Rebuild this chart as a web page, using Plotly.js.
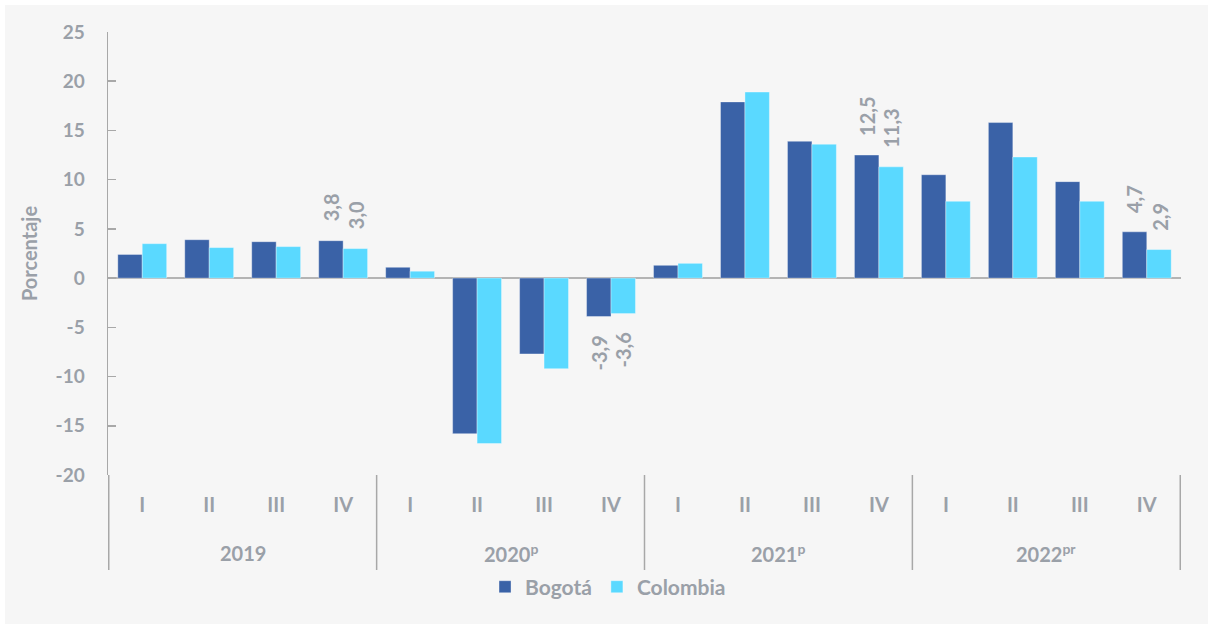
<!DOCTYPE html>
<html>
<head>
<meta charset="utf-8">
<script src="https://cdn.plot.ly/plotly-3.0.1.min.js"></script>
<style>
  html, body { margin: 0; padding: 0; background: #ffffff; }
  #chart { position: absolute; left: 5px; top: 5px; width: 1203px; height: 619px; background: #f6f6f6; }
</style>
</head>
<body>
<div id="chart"></div>
<script>
const yearKeys = ['2019', '2020', '2021', '2022'];
const yearLabels = ['2019', '2020<sup>p</sup>', '2021<sup>p</sup>', '2022<sup>pr</sup>'];
const quarters = ['I', 'II', 'III', 'IV'];
const bogota = [2.4, 3.9, 3.7, 3.8, 1.1, -15.8, -7.7, -3.9, 1.3, 17.9, 13.9, 12.5, 10.5, 15.8, 9.8, 4.7];
const colombia = [3.5, 3.1, 3.2, 3.0, 0.7, -16.8, -9.2, -3.6, 1.5, 18.9, 13.6, 11.3, 7.8, 12.3, 7.8, 2.9];
const labelledQuarter = 'IV';

const ids = [], qLabels = [];
yearKeys.forEach(y => quarters.forEach(q => { ids.push(y + ' ' + q); qLabels.push(q); }));

const gray = '#9aa0a8';
const lineGray = '#a8a8a8';
const fmt = v => v.toFixed(1).replace('.', ',');

const traces = [
  { type: 'bar', name: 'Bogotá', x: ids, y: bogota,
    marker: { color: '#3a62a7', line: { color: 'rgba(255,255,255,0.35)', width: 1 } }, hoverinfo: 'y' },
  { type: 'bar', name: 'Colombia', x: ids, y: colombia,
    marker: { color: '#5ad9ff', line: { color: 'rgba(255,255,255,0.35)', width: 1 } }, hoverinfo: 'y' }
];

const annotations = [];
qLabels.forEach((q, i) => {
  if (q !== labelledQuarter) return;
  [[bogota, -12.5], [colombia, 12.5]].forEach(([arr, dx]) => {
    const v = arr[i];
    annotations.push({
      x: i, y: v, xref: 'x', yref: 'y', text: fmt(v), showarrow: false,
      textangle: -90, xshift: dx, yshift: v >= 0 ? 17 : -17,
      yanchor: v >= 0 ? 'bottom' : 'top',
      font: { family: 'Lato, sans-serif', size: 20, color: gray }
    });
  });
});

// year group labels (centred under their four quarters) and group dividers
const nQ = quarters.length;
yearLabels.forEach((lab, k) => {
  annotations.push({
    x: k * nQ + (nQ - 1) / 2, xref: 'x', y: -0.176, yref: 'paper', yanchor: 'middle',
    text: lab, showarrow: false,
    font: { family: 'Lato, sans-serif', size: 20, color: gray, weight: 'bold' }
  });
});
const shapes = [];
for (let k = 0; k <= yearKeys.length; k++) {
  shapes.push({
    type: 'line', xref: 'x', yref: 'paper', x0: k * nQ - 0.5, x1: k * nQ - 0.5,
    y0: 0, y1: -0.2144, line: { color: lineGray, width: 1.5 }
  });
}

const layout = {
  width: 1203, height: 619,
  paper_bgcolor: '#f6f6f6', plot_bgcolor: '#f6f6f6',
  margin: { l: 103, r: 27, t: 27, b: 149 },
  barmode: 'group', bargap: 0.27, bargroupgap: 0,
  font: { family: 'Lato, sans-serif', color: gray, weight: 'bold' },
  xaxis: {
    type: 'category', tickvals: ids, ticktext: qLabels,
    showgrid: false, zeroline: false, showline: false, ticks: '',
    ticklabelstandoff: 16,
    tickfont: { family: 'Lato, sans-serif', size: 20, color: gray, weight: 'bold' }
  },
  yaxis: {
    range: [-20, 25], tickvals: [-20, -15, -10, -5, 0, 5, 10, 15, 20, 25],
    ticktext: ['-20', '-15', '-10', '-5', '0', '5', '10', '15', '20', '25'],
    showgrid: false, showline: true, linecolor: lineGray, linewidth: 1.5,
    ticks: 'inside', ticklen: 8, tickcolor: lineGray, tickwidth: 1.5,
    zeroline: true, zerolinecolor: '#b4b4b4', zerolinewidth: 2,
    tickfont: { family: 'Lato, sans-serif', size: 19, color: gray, weight: 'bold' },
    ticklabelstandoff: 18,
    title: { text: 'Porcentaje', standoff: 12, font: { family: 'Lato, sans-serif', size: 20, color: gray, weight: 'bold' } }
  },
  showlegend: true,
  legend: {
    orientation: 'h', x: 0.466, xanchor: 'center', y: -0.253, yanchor: 'middle',
    font: { family: 'Lato, sans-serif', size: 21, color: gray, weight: 'bold' },
    bgcolor: 'rgba(0,0,0,0)', itemwidth: 30, traceorder: 'normal'
  },
  annotations: annotations,
  shapes: shapes
};

Plotly.newPlot('chart', traces, layout, { displayModeBar: false, staticPlot: true });
</script>
</body>
</html>
